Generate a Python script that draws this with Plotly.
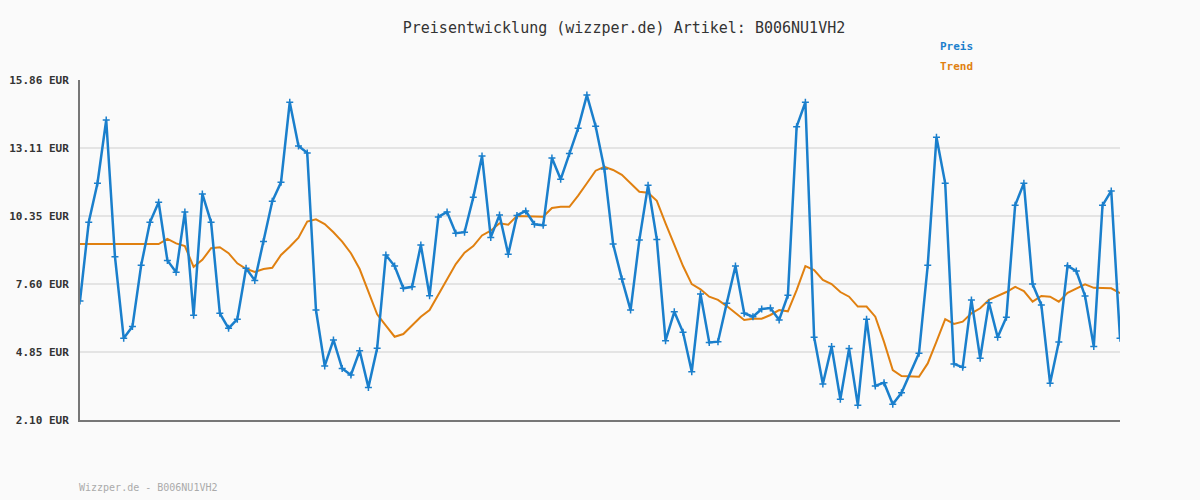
import plotly.graph_objects as go

# Day index (one day at position 95 has no data point)
days = [i for i in range(120) if i != 95]

preis = [
    6.92, 10.10, 11.68, 14.24, 8.71, 5.41, 5.88, 8.36, 10.10, 10.91,
    8.56, 8.08, 10.52, 6.34, 11.25, 10.10, 6.42, 5.81, 6.18, 8.24,
    7.75, 9.32, 10.95, 11.72, 14.96, 13.19, 12.91, 6.55, 4.29, 5.34,
    4.18, 3.92, 4.90, 3.42, 5.00, 8.78, 8.33, 7.43, 7.49, 9.18,
    7.13, 10.32, 10.52, 9.66, 9.70, 11.11, 12.78, 9.49, 10.40, 8.81,
    10.38, 10.56, 10.02, 9.98, 12.70, 11.84, 12.89, 13.91, 15.25, 13.99,
    12.26, 9.22, 7.81, 6.55, 9.38, 11.60, 9.41, 5.31, 6.48, 5.65,
    4.05, 7.20, 5.24, 5.27, 6.82, 8.33, 6.42, 6.28, 6.59, 6.63,
    6.15, 7.15, 13.97, 14.96, 5.45, 3.56, 5.07, 2.94, 4.99, 2.70,
    6.18, 3.48, 3.61, 2.74, 3.20, 4.80, 8.36, 13.54, 11.68, 4.37,
    4.23, 6.96, 4.60, 6.85, 5.45, 6.26, 10.79, 11.68, 7.60, 6.75,
    3.59, 5.26, 8.34, 8.13, 7.12, 5.07, 10.79, 11.37, 5.41,
]

trend = [
    9.22, 9.22, 9.22, 9.22, 9.22, 9.22, 9.22, 9.22, 9.22, 9.22,
    9.43, 9.25, 9.14, 8.30, 8.58, 9.05, 9.09, 8.85, 8.44, 8.22,
    8.09, 8.21, 8.26, 8.78, 9.11, 9.48, 10.13, 10.22, 10.03, 9.70,
    9.32, 8.85, 8.21, 7.29, 6.38, 5.92, 5.47, 5.58, 5.92, 6.28,
    6.55, 7.19, 7.77, 8.41, 8.87, 9.14, 9.57, 9.76, 10.06, 10.00,
    10.36, 10.36, 10.33, 10.33, 10.68, 10.73, 10.73, 11.18, 11.68, 12.19,
    12.35, 12.22, 12.02, 11.70, 11.34, 11.30, 10.97, 10.06, 9.18, 8.33,
    7.60, 7.39, 7.09, 6.96, 6.71, 6.42, 6.15, 6.20, 6.20, 6.35,
    6.55, 6.50, 7.36, 8.33, 8.17, 7.77, 7.60, 7.28, 7.09, 6.69,
    6.69, 6.28, 5.26, 4.12, 3.88, 3.85, 4.39, 5.27, 6.18, 5.99,
    6.08, 6.42, 6.62, 6.96, 7.12, 7.28, 7.49, 7.32, 6.89, 7.12,
    7.09, 6.89, 7.25, 7.43, 7.59, 7.45, 7.45, 7.43, 7.23,
]

tick_vals = [2.10, 4.85, 7.60, 10.35, 13.11, 15.86]
tick_text = ["2.10 EUR", "4.85 EUR", "7.60 EUR", "10.35 EUR", "13.11 EUR", "15.86 EUR"]

BLUE = "#1a7fcc"
ORANGE = "#e08010"
BG = "#fafafa"
MONO = "DejaVu Sans Mono"

fig = go.Figure()
fig.add_trace(go.Scatter(
    x=days, y=trend, mode="lines", name="Trend",
    line=dict(color=ORANGE, width=2),
))
fig.add_trace(go.Scatter(
    x=days, y=preis, mode="lines+markers", name="Preis",
    line=dict(color=BLUE, width=2.5),
    marker=dict(symbol="cross-thin", size=5, color=BLUE, line=dict(color=BLUE, width=1.5)),
))

fig.update_layout(
    width=1200, height=500,
    paper_bgcolor=BG, plot_bgcolor=BG,
    margin=dict(l=80, r=80, t=80, b=80, pad=0),
    showlegend=False,
    title=dict(
        text="Preisentwicklung (wizzper.de) Artikel: B006NU1VH2",
        x=0.52, xanchor="center", y=1 - 28 / 500, yanchor="middle", yref="container",
        font=dict(family=MONO, size=15, color="#333333"),
    ),
    xaxis=dict(
        range=[0, 119], showgrid=False, zeroline=False, showticklabels=False,
        showline=True, linecolor="#777777", linewidth=2, ticks="", automargin=False,
    ),
    yaxis=dict(
        range=[2.10, 15.86], tickvals=tick_vals, ticktext=tick_text,
        showgrid=True, gridcolor="#e4e4e4", gridwidth=2, zeroline=False,
        showline=True, linecolor="#777777", linewidth=2, ticks="", automargin=False,
        ticklabelstandoff=7,
        tickfont=dict(family=MONO, size=11, color="#333333", weight="bold"),
    ),
    annotations=[
        dict(text="Preis", xref="paper", yref="paper", x=(938 - 80) / 1040, y=(420 - 47) / 340,
             xanchor="left", yanchor="middle", showarrow=False,
             font=dict(family=MONO, size=11, color=BLUE, weight="bold")),
        dict(text="Trend", xref="paper", yref="paper", x=(938 - 80) / 1040, y=(420 - 67) / 340,
             xanchor="left", yanchor="middle", showarrow=False,
             font=dict(family=MONO, size=11, color=ORANGE, weight="bold")),
        dict(text="Wizzper.de - B006NU1VH2", xref="paper", yref="paper", x=-0.003, y=(420 - 487) / 340,
             xanchor="left", yanchor="middle", showarrow=False,
             font=dict(family=MONO, size=10, color="#aaaaaa")),
    ],
)

fig.write_html("out.html", config={"displayModeBar": False},
               post_script="document.body.style.margin='0';")
